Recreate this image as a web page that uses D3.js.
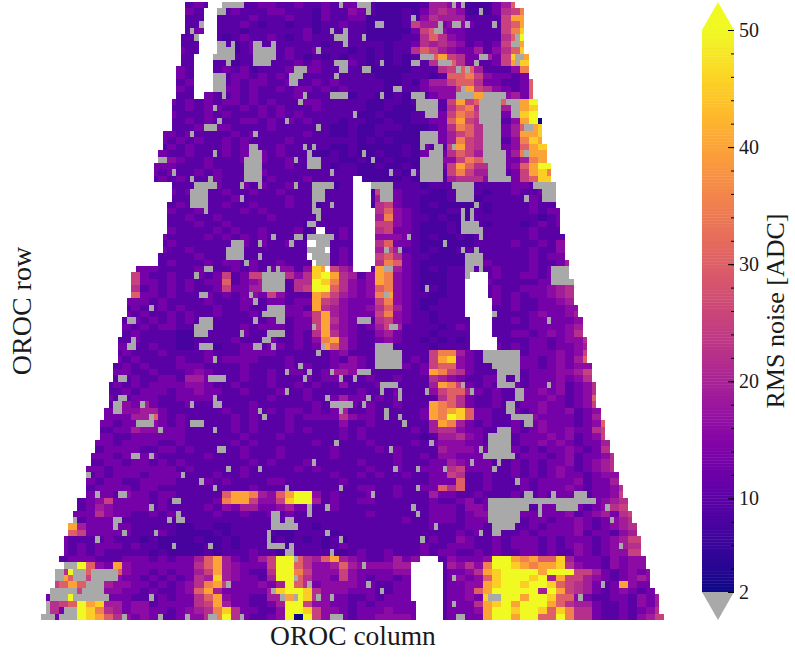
<!DOCTYPE html>
<html>
<head>
<meta charset="utf-8">
<script src="https://cdn.jsdelivr.net/npm/d3@7"></script>
<style>
  html, body { margin: 0; padding: 0; background: #fff; }
  text { font-family: "Liberation Serif", serif; fill: #1a1a1a; }
</style>
</head>
<body>
<div id="chart"></div>
<script>
// first and one-past-last channel of every OROC row
var leftCols = [32,32,32,32,32,31,31,31,31,31,30,30,30,30,30,29,29,29,29,29,27,27,27,26,26,25,25,25,29,29,29,28,28,28,28,28,27,27,27,26,26,21,20,20,20,20,19,19,19,18,18,18,17,17,17,17,16,16,16,15,15,15,15,14,14,13,13,13,12,12,11,11,10,10,10,10,10,8,8,7,7,6,6,5,5,5,4,5,3,3,3,2,1,1,1,0];
var rightCols = [105,107,107,107,107,107,107,107,108,108,108,108,109,109,109,110,110,110,111,111,111,111,112,112,112,113,113,113,114,114,114,114,115,115,115,115,116,116,116,116,117,117,117,118,118,118,118,119,119,120,120,120,121,121,121,121,122,122,122,123,123,123,123,124,124,125,125,125,126,126,127,127,127,128,128,129,129,130,130,131,131,132,132,133,133,133,134,134,135,135,135,136,137,137,137,138];

// RMS levels, one char per two channels
var levelChars = "n0123456789abc";
var levelValues = [2,5.5,7.5,9.5,13,16,19,22,25,30,35,40,45,52];
var valueRows = [
"2322232233 2232232333 2111112 5543 1113 589",
"3232232223 3222132243 2111213 5654 1113 6799",
"2232222322 2322132233 1111214 6555 2222 7aab",
"2222223212 2122122322 1111275 5344 3222 78ac",
"2322221222 2223122222 1111137 8433 2222 79bc",
"2 2322123223 2123222222 1111226 8643 2222 68cc",
"2 2221212322 2222212222 2212236 5654 2323 7aac",
"3 2222212322 2322322212 1212268 7543 3524 68bc",
"2 2312222212 2321212122 1212125 8a76 3353 7bac",
"2 2222212222 2232322232 1212112 6786 3223 7abc",
"3 2322323122 2323322222 1111122 2678 8522 249ac",
"3 2323233232 3232222222 2111222 1288 9743 323 9bcc",
"2 3233232332 2322323222 2211213 5578 8633 223 8abc",
"3 2323332322 3233232322 2212223 4447 a764 323 8acb",
"2 2332232322 2232222212 2112112 3449 7a86 453 8bcc",
"3 2323233232 3222332222 2112212 222 7a78 988 7 accc",
"2 2323322323 2322232222 2112111 222 6896 755 3 abcc",
"3 2223232223 2323222222 1121112 223 7987 623 4 bccn",
"2 2323222332 3232322212 2112112 233 8a76 622 4 acnn",
"2 2232332222 3222222112 1122211 123 6986 733 5 8abb",
"3 3 2322223232 2222322112 1121111 223 5786 633 5 aabc",
"3 2 3232232322 2232222222 1212111 223 5976 532 4 9bab",
"2 3 2322232322 2322222112 1111121 322 7a76 633 4 8ab9",
"3 2 2322232323 2322211212 1121121 323 6875 533 5 9aa9",
"34 3 2232223232 2322222112 1121111 344 7985 633 5 9abc",
"33 3 2223222222 2232222122 1121121 433 7a86 633 4 8acc",
"32 3 2232322223 2222222222 1111212 322 7975 532 3 7ab9",
"23 2 3222322222 3222322222 1111121 222 5666 433 3 78bb",
"2 2222322323 2232222122 2222222 1222222222 33232",
"3 2322232232 2322222222 2176322 2112222122 32232332",
"2 2222223222 2232212222 2255322 1112121222 22322344",
"2 3222232232 2232212222 2167322 1211112122 22322345",
"3 2232222323 2222222222 2268432 1112212122 22323345",
"2 2322322222 3222222222 2159432 2121112222 22212345",
"2 2232232222 2222122222 2177432 1112122122 21232333",
"3 2222323223 2223122232 2267332 1112112222 22322234",
"32 2223232323 2222122232 1144432 1211212222 22322233",
"23 2222222323 2232222222 2168332 1111112222 32232443",
"32 2322222222 2222222232 2157522 1211222222 22322445",
"22 2232222222 2222222232 2178632 2111112222 22323355",
"23 2223233232 2322222232 2269832 1111122322 22322356",
"33322 2232223232 34424ba754 22a8532 1212222232 2232356",
"73223 2232372377 45646bca65 24a9432 1112223232 2332345",
"73323 2323382345 35266cb964 34a9432 1112222322 2223356",
"62323 2322373355 35267cc864 3489432 1212222232 2333456",
"83323 2223232343 74222a9754 349a432 2112222232 3233456",
"3 33232 2223222332 33233a7643 3379432 1122222332 3223345",
"2 32232 3222322322 33332a6543 3468532 1222222222 32233344",
"3 23223 2322322232 223347a543 3379432 2122222322 22343345",
"2 32323 2322222222 322337a643 2267432 2122222322 32333334",
"3 23233 2222222323 332337a543 2357522 2212322322 22333345",
"2 32222 1122222322 322326a643 2245322 2122222322 33234346",
"22 32222 1122223222 3223249a53 2234322 1212122222 223323446",
"33 22322 1122122332 332323a853 2222222 2122222232 323323345",
"23 22232 2223222333 3222222342 2232222 2799532322 223334347",
"32 32222 3223233332 2232222324 3232223 27ab432232 333234358",
"23 23222 3332222322 2232322344 3222232 3788432232 233234344",
"33 22322 2343222322 3233223554 3222222 3a97632222 323334457",
"22 32233 2553222322 3222323322 2322322 2654322332 223334346",
"232 32333 3443223222 3223232242 2232222 25a9732322 3233342346",
"223 23332 3343322322 2322322222 3222322 2478853232 2334342346",
"322 33322 3333222222 3222322353 3232322 2268632232 2333432348",
"234 35322 2322322232 2222232363 2322322 2a98632232 2334332347",
"334 45532 2222232232 3233232352 2322222 3a9ab83322 32343342347",
"333 55832 3222223232 2232333364 3322222 3a9cb83322 33433332358",
"3323 33432 3222223232 2232222242 2322222 25a9532322 32343332348",
"2233 54433 3222223232 2232322232 3222223 2566433222 32343343367",
"3322 33333 3222222322 2322222232 3222222 1255643233 23334342347",
"332333322 3222223232 2222232222 2322223 2344433222 233434323358",
"233332233 2322222322 2322222322 2232322 2254443322 323233432367",
"3 332333322 2223222322 2322222322 2222322 3244333222 233323423346",
"2 233233232 3222222232 3222322222 3222322 2335433322 323233423456",
"3 323333333 2322222322 2223232222 2322322 3336733322 323234323456",
"2 323332333 3222322322 2222222322 3232232 2337622322 3232343323445",
"3 233223333 2223232222 3322222232 2222222 2333822322 2323333423357",
"2 333323322 2222222232 2222222222 3322322 3386822322 2323334323346",
"3 332433233 222228aa95 48acc42322 2322322 2533223222 3223233423347",
"23 473333232 222239aa74 47bcc52322 3322222 2322342322 2322334323456",
"23 543333232 2223243553 3453322322 2222222 2333244333 3323334323467",
"333 643322323 2222322322 3232222222 2322222 2333234433 23333342345367",
"823 333222222 2222222222 2232222222 2222232 2333233322 22332334323456",
"a53 333322222 1122112222 2122212222 2222222 2322233222 223233343234567",
"873 333322232 1111212222 2112222122 2222222 2222323222 232333342332456",
"3222 232221211 1121121222 1212121212 2222222 2322432232 33323233323457",
"3232 333232211 1112121222 2212221232 2222222 3223332232 33323234323456",
"3232 322222121 1112122232 2122222112 3223222 3233223232 23323224323447",
"2333 222333232 3358a53235 7cc8658a54 3223534 22243334cc a9a88b533324344",
"33c8 43a433333 3368a54333 7cc8644585 4444554 22254649cc ba9aab6433243445",
"36ca8 558433232 3357a54322 6cc9744474 3333444 2223346abc cccaccc775323434",
"7a8c7 444332323 2365b54332 5cc8644374 3233232 22234348bc ccbc5a7754323454",
"78a87 854433232 3469a73334 35c8634444 3322333 2223344abc cbccb8765323a433",
"6667a 744332322 348a533333 5bccb64443 3322332 2223348acc ccc5ca765323432347",
"333c33 333322232 3368a43322 55acb64332 2323333 2223343bcc caccb8843223324356",
"3678ca b55344233 3367a53322 35cc744332 3233333 2223336abc accca8655322324356",
"3633cb 965344332 34569b6332 24ccb74432 3334333 2223334acc bccb8b966322323467",
"3333cb a86434322 34469c6322 34cnc74432 3344443 2223333acc acc88c966322324576"
];

// channels below range: [col, row, endCol, endRow]
var greyBlocks = [
[40,0,45,1],[39,1,41,2],[70,0,73,1],[72,1,73,2],[66,0,67,1],[35,3,36,4],[33,4,34,5],[34,5,35,6],[39,6,41,7],[42,6,43,7],[39,7,43,9],[38,8,39,9],[41,9,42,10],[38,11,41,14],[40,14,41,15],
[47,6,49,8],[47,8,51,10],[51,6,52,8],[49,7,52,9],[56,10,59,11],[55,11,58,12],[55,12,57,13],[61,7,62,8],[64,4,65,5],[65,5,68,6],[67,4,68,7],[71,5,72,6],[74,3,75,4],[65,9,68,10],[66,10,68,11],[71,10,73,11],[65,11,66,12],[64,14,68,15],
[57,15,58,16],[58,14,59,15],[38,16,39,17],[39,18,40,19],[36,19,39,20],[69,17,70,18],[54,18,55,19],[61,19,62,20],[33,20,34,21],[47,20,48,21],[46,22,48,24],[48,23,49,24],[58,22,59,23],[60,22,61,23],[59,23,60,24],[38,23,39,24],
[91,0,92,1],[93,0,94,1],[97,1,98,2],[82,2,83,3],[75,3,76,4],[91,3,93,4],[94,3,95,4],[100,3,101,4],[88,3,89,4],[87,4,89,5],[104,6,106,7],[105,5,106,6],[84,8,87,9],[88,9,91,10],[82,9,84,10],[75,9,76,10],[97,8,99,9],[96,9,97,10],[105,8,107,9],[105,9,106,10],[92,10,93,11],[94,10,95,11],
[78,13,80,14],[93,13,94,14],[83,14,85,15],[83,15,88,17],[85,17,88,18],[75,14,76,15],[82,14,83,15],[92,14,96,15],[98,14,103,15],[97,15,102,19],[98,19,102,24],[103,15,106,16],[104,16,106,18],[107,19,109,20],[84,20,85,23],[85,20,88,22],[87,22,89,24],[91,22,92,23],[107,23,108,24],[86,23,87,24],
[71,23,72,24],[73,24,74,25],[84,24,89,28],[98,23,103,25],[99,25,103,27],[99,27,104,28],[77,26,78,27],[82,26,83,27],[73,28,78,29],[75,29,78,31],[91,28,96,29],[92,29,96,31],[96,31,97,32],[109,28,114,29],[111,29,114,31],[107,30,108,31],
[93,32,94,34],[95,32,96,34],[93,34,97,36],[97,35,98,37],[81,36,82,37],[89,37,90,38],[79,38,80,39],[76,38,77,39],[93,38,94,39],[96,38,97,39],[94,39,98,41],[94,41,96,43],[97,41,98,42],[76,41,78,42],[85,44,86,45],[76,45,77,46],[70,49,73,50],[100,48,101,49],[112,49,113,50],[113,41,118,44],
[26,24,28,25],[29,26,30,27],[33,27,34,28],[37,27,38,28],[34,28,39,29],[33,29,37,32],[36,32,37,33],[45,24,49,28],[46,23,49,24],[48,28,49,29],[44,28,45,29],[56,24,57,25],[56,28,57,29],[44,30,45,31],
[59,24,62,26],[59,23,60,24],[60,28,65,29],[60,29,63,31],[60,31,61,32],[60,32,62,33],[61,33,62,34],[64,26,65,27],[64,31,65,32],[59,34,61,35],[59,36,65,37],[61,37,64,41],[59,38,63,40],[56,36,58,37],[55,37,56,38],[48,37,49,38],[51,36,52,37],
[42,37,45,38],[41,38,45,40],[45,40,46,41],[48,39,49,40],[36,41,38,42],[34,42,35,43],[35,45,37,46],[49,42,54,45],[50,41,51,42],[52,41,53,42],[46,45,47,46],[47,46,48,47],[50,47,54,49],[49,48,50,49],[52,49,54,50],[24,47,25,48],[19,49,21,50],[35,49,37,50],[37,49,38,50],[47,49,48,50],
[20,52,21,53],[19,53,21,54],[35,53,38,54],[34,50,37,52],[37,50,38,51],[44,51,45,52],[47,53,48,54],[50,51,54,52],[49,52,51,53],[48,53,49,54],[51,53,52,54],[62,53,63,54],[61,54,62,55],[60,50,61,51],[38,55,39,56],[57,56,58,57],[54,57,55,58],[59,57,60,58],[64,57,65,58],[58,58,59,59],
[17,58,19,59],[37,58,41,59],[54,60,55,61],[38,61,39,62],[38,62,40,63],[17,61,19,62],[16,62,18,64],[63,61,64,62],[64,62,65,63],[22,62,23,63],[33,62,34,63],[48,63,49,64],[49,64,50,65],[24,64,25,65],[21,65,25,66],[33,65,36,66],[26,66,27,67],[38,66,39,67],
[39,69,41,70],[20,70,22,71],[24,70,25,71],[60,71,61,72],[41,72,42,73],[48,72,49,73],[54,75,55,76],[10,73,11,74],[31,73,32,74],[35,74,36,75],[38,75,39,76],[12,76,13,77],[17,76,19,77],[29,77,31,78],
[77,50,79,51],[74,53,78,54],[74,54,80,57],[98,54,106,56],[100,56,106,57],[101,57,103,60],[103,57,106,58],[105,58,106,59],[103,59,105,60],[70,57,73,58],[69,58,70,59],[66,58,67,59],[93,59,94,60],[112,59,113,60],[75,59,79,60],[75,60,76,61],[79,60,80,62],[85,60,86,61],[95,60,96,61],[105,60,107,62],
[72,61,73,62],[71,62,72,63],[65,62,69,63],[66,63,67,64],[76,63,77,65],[79,64,80,65],[80,65,81,66],[103,62,105,64],[104,64,109,65],[107,65,109,66],[101,66,104,67],[99,67,104,70],[98,70,105,71],[101,71,102,72],[100,72,101,73],[97,69,98,70],[95,71,96,72],[65,68,66,69],[77,69,78,70],[86,68,87,69],
[78,72,79,73],[83,72,84,73],[89,72,90,73],[105,74,106,75],[66,75,67,76],[83,75,84,76],[73,76,74,77],[107,76,109,77],[113,76,114,77],[118,76,121,77],[99,77,123,78],
[99,78,108,79],[114,78,119,79],[99,79,106,81],[100,81,105,82],[100,82,102,83],[110,78,111,80],[125,78,126,79],[126,80,127,81],[97,82,98,83],[128,84,129,85],[91,89,92,90],[124,90,125,91],[99,92,102,93],[119,92,120,93],[91,93,92,94],[92,95,94,96],
[59,78,60,80],[63,78,64,79],[82,78,83,79],[83,79,84,80],[51,79,53,81],[51,81,57,82],[54,80,56,81],[87,81,88,82],[63,82,64,83],[50,82,51,84],[50,84,54,85],[54,85,56,86],[55,84,56,85],[66,83,67,84],[84,83,85,84],[64,85,65,86],[56,86,57,87],[71,87,72,88],[56,89,57,90],[59,90,60,91],[72,90,73,91],[75,91,76,92],[51,91,52,92],[53,92,54,93],[56,92,57,93],[61,92,62,93],[64,92,65,93],[44,95,45,96],[64,95,67,96],
[24,78,25,79],[30,79,31,80],[28,80,29,81],[30,80,32,81],[16,80,18,81],[16,81,17,82],[7,80,8,81],[18,82,19,83],[25,82,26,83],[12,83,13,84],[29,84,30,85],[37,84,38,85],
[5,87,8,88],[3,88,5,90],[7,88,10,90],[11,88,17,90],[10,90,14,91],[2,91,8,92],[9,91,14,92],[2,92,6,93],[7,92,15,93],[1,93,2,95],[5,94,8,95],[0,95,3,96],[4,95,8,96],[24,92,25,93],[18,95,19,96],[26,95,27,96],[32,95,33,96],[37,95,39,96],[41,90,42,91]
];

// channels with no data at all
var missingBlocks = [
[37,0,40,1],[36,1,39,5],[35,5,39,8],[34,8,38,11],[34,11,38,14],[34,14,36,15],
[69,27,71,28],[69,28,73,32],[69,32,74,41],[69,41,73,42],
[61,35,63,36],[59,37,61,38],[63,38,64,39],[59,39,60,40],[60,40,61,41],[63,41,64,42],
[95,42,99,43],[94,43,99,46],[94,46,100,49],[95,49,100,52],[95,52,101,54],
[84,86,88,87],[82,87,89,93],[83,93,89,96]
];

var colorTicks = [2,10,20,30,40,50];
var minorTicks = d3.range(4, 50, 2);

var width = 795, height = 657;
var nCols = 138, nRows = 96;

var svg = d3.select("#chart").append("svg")
  .attr("width", width)
  .attr("height", height)
  .style("display", "block");

var x = d3.scaleLinear().domain([0, nCols]).range([41, 664]);
var y = d3.scaleLinear().domain([0, nRows]).range([2, 620]);
var color = d3.scaleSequential(d3.interpolatePlasma).domain([2, 50]).clamp(true);
var grey = "#a9a9a9";

function blockMap(blocks) {
  var m = new Set();
  blocks.forEach(function (b) {
    for (var r = b[1]; r < b[3]; r++)
      for (var c = b[0]; c < b[2]; c++) m.add(c + "," + r);
  });
  return m;
}
var greyMap = blockMap(greyBlocks);
var missingMap = blockMap(missingBlocks);

var cells = [];
valueRows.forEach(function (s, r) {
  var chars = s.replace(/ /g, "");
  var k0 = Math.floor(leftCols[r] / 2);
  for (var c = leftCols[r]; c < rightCols[r]; c++) {
    var key = c + "," + r;
    if (missingMap.has(key)) continue;
    var i = Math.min(Math.floor(c / 2) - k0, chars.length - 1);
    cells.push({
      col: c, row: r,
      bad: greyMap.has(key),
      value: levelValues[levelChars.indexOf(chars[i])]
    });
  }
});

svg.append("g").attr("shape-rendering", "crispEdges")
  .selectAll("rect")
  .data(cells)
  .enter().append("rect")
  .attr("x", function (d) { return x(d.col); })
  .attr("y", function (d) { return y(d.row); })
  .attr("width", x(1) - x(0))
  .attr("height", y(1) - y(0))
  .style("fill", function (d) { return d.bad ? grey : color(d.value); });

// colorbar
var cbY = d3.scaleLinear().domain([2, 50]).range([592, 30]);
var cbLeft = 702, cbRight = 734, cbMid = 718;
var cb = svg.append("g");

cb.append("g").selectAll("rect")
  .data(d3.range(2, 50, 0.25))
  .enter().append("rect")
  .attr("x", cbLeft)
  .attr("y", function (d) { return cbY(d + 0.25); })
  .attr("width", cbRight - cbLeft)
  .attr("height", cbY(0) - cbY(0.25) + 0.4)
  .style("fill", function (d) { return color(d); });

cb.append("path")
  .attr("d", "M" + cbLeft + "," + cbY(50) + "L" + cbMid + ",2L" + cbRight + "," + cbY(50) + "Z")
  .style("fill", color(50));
cb.append("path")
  .attr("d", "M" + cbLeft + "," + cbY(2) + "L" + cbMid + ",620L" + cbRight + "," + cbY(2) + "Z")
  .style("fill", grey);

var minorAxis = d3.axisRight(cbY).tickValues(minorTicks).tickSize(-3).tickFormat("");
var majorAxis = d3.axisRight(cbY).tickValues(colorTicks).tickSize(-6).tickPadding(5);

cb.append("g").attr("transform", "translate(" + cbRight + ",0)").call(minorAxis)
  .call(function (g) { g.select(".domain").remove(); });
cb.append("g").attr("transform", "translate(" + cbRight + ",0)").call(majorAxis)
  .call(function (g) { g.select(".domain").remove(); })
  .selectAll("text")
  .attr("x", 5)
  .style("font-size", "20px");

svg.append("text")
  .attr("transform", "translate(784,311) rotate(-90)")
  .attr("text-anchor", "middle")
  .style("font-size", "26px")
  .text("RMS noise [ADC]");

svg.append("text")
  .attr("transform", "translate(31,311) rotate(-90)")
  .attr("text-anchor", "middle")
  .style("font-size", "28px")
  .text("OROC row");

svg.append("text")
  .attr("x", 353)
  .attr("y", 645)
  .attr("text-anchor", "middle")
  .style("font-size", "27.5px")
  .text("OROC column");
</script>
</body>
</html>
